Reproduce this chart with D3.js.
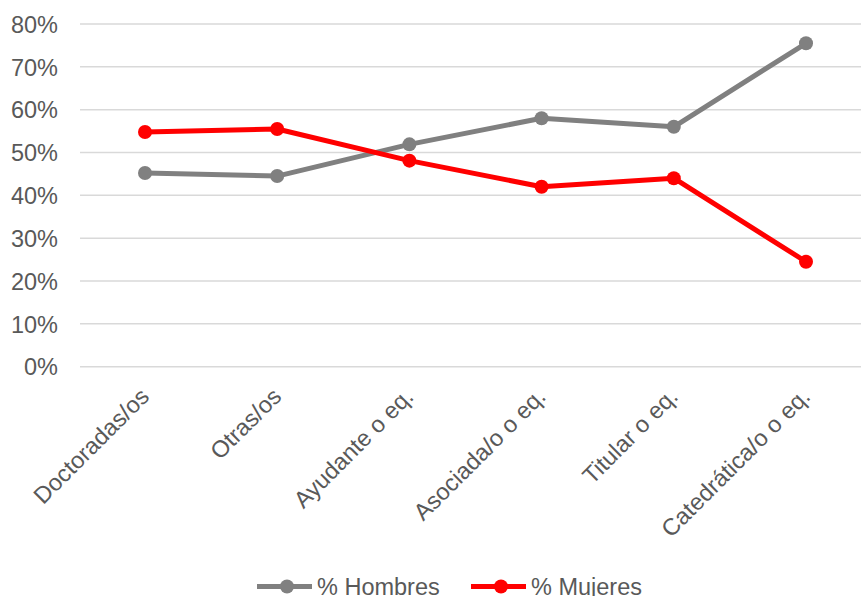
<!DOCTYPE html>
<html><head><meta charset="utf-8">
<script src="https://cdn.jsdelivr.net/npm/d3@7"></script>
<style>body{margin:0;background:#fff}svg{display:block}text{font-family:"Liberation Sans",Arial,sans-serif;fill:#595959}</style>
</head><body><svg id="c" width="861" height="596"></svg>
<script>
const categories = ["Doctoradas/os","Otras/os","Ayudante o eq.","Asociada/o o eq.","Titular o eq.","Catedrática/o o eq."];
const hombres = [45.2,44.5,51.9,58.0,56.0,75.5];
const mujeres = [54.8,55.5,48.1,42.0,44.0,24.5];
const yTicks = [0,10,20,30,40,50,60,70,80];
const seriesNames = ["% Hombres","% Mujeres"];
const colors = ["#808080","#FF0000"];

const svg = d3.select("#c");
const x = d3.scalePoint().domain(categories).range([145,806]);
const y = d3.scaleLinear().domain([0,80]).range([366.7,24]);

// gridlines
svg.append("g").selectAll("line").data(yTicks).join("line")
  .attr("x1",80).attr("x2",861).attr("y1",d=>y(d)).attr("y2",d=>y(d))
  .attr("stroke","#d9d9d9").attr("stroke-width",1.5);

// y axis
const yAxis = d3.axisLeft(y).tickValues(yTicks).tickFormat(d=>d+"%").tickSize(0).tickPadding(0);
const gy = svg.append("g").attr("transform","translate(58,0)").call(yAxis);
gy.select(".domain").remove();
gy.selectAll("text").style("font-size","23.5px").attr("dy","0.35em").style("fill","#595959");

// x axis labels
const xAxis = d3.axisBottom(x).tickSize(0).tickPadding(0);
const gx = svg.append("g").attr("transform","translate(0,398)").call(xAxis);
gx.select(".domain").remove();
gx.selectAll("text").style("font-size","23.5px").style("fill","#595959")
  .attr("text-anchor","end").attr("dy","0").attr("y",0)
  .attr("transform","translate(5,0) rotate(-45)");

const data = [hombres, mujeres];
const line = d3.line().x((d,i)=>x(categories[i])).y(d=>y(d));
data.forEach((s,k)=>{
  svg.append("path").datum(s).attr("d",line).attr("fill","none")
    .attr("stroke",colors[k]).attr("stroke-width",5).attr("stroke-linejoin","round");
  svg.append("g").selectAll("circle").data(s).join("circle")
    .attr("cx",(d,i)=>x(categories[i])).attr("cy",d=>y(d)).attr("r",7).attr("fill",colors[k]);
});

// legend
const legendX = [257,471];
seriesNames.forEach((n,k)=>{
  const g = svg.append("g").attr("transform",`translate(${legendX[k]},586.5)`);
  g.append("line").attr("x1",0).attr("x2",55).attr("stroke",colors[k]).attr("stroke-width",5);
  g.append("circle").attr("cx",30).attr("r",7).attr("fill",colors[k]);
  g.append("text").attr("x",60).attr("dy","0.35em").style("font-size","23.5px").text(n);
});
</script></body></html>
